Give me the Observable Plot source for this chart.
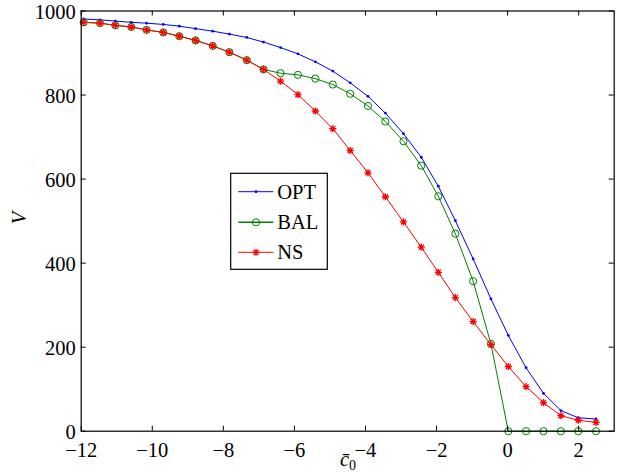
<!DOCTYPE html>
<html><head><meta charset="utf-8">
<script src="https://cdn.jsdelivr.net/npm/d3@7"></script>
<script src="https://cdn.jsdelivr.net/npm/@observablehq/plot@0.6"></script>
<style>
body{margin:0;background:#fff}
#chart{width:626px;height:474px}
#chart svg text{font-family:'Liberation Serif','Times New Roman',serif !important;}
</style>
</head><body><div id="chart"></div>
<script>
const c0 = [-11.93, -11.47, -11.04, -10.59, -10.16, -9.69, -9.24, -8.78, -8.30, -7.83, -7.34, -6.87, -6.39, -5.90, -5.41, -4.92, -4.43, -3.93, -3.44, -2.93, -2.43, -1.95, -1.47, -0.97, -0.47, 0.02, 0.52, 1.01, 1.50, 1.99, 2.49];
const opt = [981, 979, 976, 973, 971, 968, 964, 958, 952, 945, 937, 926, 913, 898, 879, 857, 829, 797, 757, 708, 652, 583, 501, 410, 315, 228, 151, 90, 49, 32, 29];
const bal = [973, 971, 966, 962, 955, 949, 940, 930, 917, 902, 883, 861, 852, 848, 839, 825, 803, 774, 737, 690, 632, 559, 470, 357, 208, 0, 0, 0, 0, 0, 0];
const ns  = [973, 971, 966, 962, 955, 949, 940, 930, 917, 902, 883, 861, 833, 801, 762, 720, 668, 615, 558, 498, 438, 378, 318, 261, 206, 154, 106, 68, 37, 26, 21];
const xTicks = [-12, -10, -8, -6, -4, -2, 0, 2];
const yTicks = [0, 200, 400, 600, 800, 1000];
const seriesNames = ["OPT", "BAL", "NS"];
const colors = ["#0000ff", "#008000", "#ff0000"];

const W = 626, H = 474;
const mL = 80.7, mR = 12.3, mT = 10.5, mB = 43.3;
const plotW = W - mL - mR, plotH = H - mT - mB;
const font = "'Liberation Serif', 'Times New Roman', serif";
const FS = 20.5;
const minus = d => String(d).replace("-", "\u2212");

const rows = ys => c0.map((x, i) => ({x, y: ys[i]}));
const optRows = rows(opt), balRows = rows(bal), nsRows = rows(ns);

const asterisk = {
  draw(ctx, size) {
    const r = Math.sqrt(size / Math.PI), d = r * Math.SQRT1_2;
    ctx.moveTo(-r, 0); ctx.lineTo(r, 0);
    ctx.moveTo(0, -r); ctx.lineTo(0, r);
    ctx.moveTo(-d, -d); ctx.lineTo(d, d);
    ctx.moveTo(-d, d); ctx.lineTo(d, -d);
  }
};

const chart = Plot.plot({
  width: W, height: H,
  marginLeft: mL, marginRight: mR, marginTop: mT, marginBottom: mB,
  style: {fontFamily: font, fontSize: FS + "px", background: "#fff", color: "#000"},
  x: {domain: [-12, 3]},
  y: {domain: [0, 1000]},
  marks: [
    Plot.line(optRows, {x: "x", y: "y", stroke: colors[0], strokeWidth: 1}),
    Plot.dot(optRows, {x: "x", y: "y", r: 1.4, fill: colors[0], stroke: "none"}),
    Plot.line(balRows, {x: "x", y: "y", stroke: colors[1], strokeWidth: 1}),
    Plot.dot(balRows, {x: "x", y: "y", r: 3.6, fill: "none", stroke: colors[1], strokeWidth: 1}),
    Plot.line(nsRows, {x: "x", y: "y", stroke: colors[2], strokeWidth: 1}),
    Plot.dot(nsRows, {x: "x", y: "y", r: 3.6, symbol: asterisk, fill: "none", stroke: colors[2], strokeWidth: 1.3}),
    Plot.tickX(xTicks, {x: d => d, stroke: "black", strokeWidth: 1, insetTop: plotH - 5}),
    Plot.tickX(xTicks, {x: d => d, stroke: "black", strokeWidth: 1, insetBottom: plotH - 5}),
    Plot.tickY(yTicks, {y: d => d, stroke: "black", strokeWidth: 1, insetRight: plotW - 5}),
    Plot.tickY(yTicks, {y: d => d, stroke: "black", strokeWidth: 1, insetLeft: plotW - 5}),
    Plot.axisX(xTicks, {tickSize: 0, tickPadding: 11, tickFormat: minus, fontSize: FS, label: null, fill: "black"}),
    Plot.axisY(yTicks, {tickSize: 0, tickPadding: 5.5, tickFormat: minus, fontSize: FS, label: null, fill: "black", dy: 1}),
    Plot.frame({stroke: "black", strokeWidth: 1.2})
  ]
});
document.getElementById("chart").appendChild(chart);

const svg = d3.select(chart);
// axis labels
const xl = svg.append("text").attr("x", 348).attr("y", 466).attr("text-anchor", "middle")
  .attr("font-family", font).attr("font-size", FS).attr("fill", "black");
xl.append("tspan").attr("font-style", "italic").text("c\u0304");
xl.append("tspan").attr("font-size", 14).attr("dy", 4).text("0");
svg.append("text").attr("transform", "translate(26,218) rotate(-90)").attr("text-anchor", "middle")
  .attr("font-family", font).attr("font-size", FS).attr("font-style", "italic").attr("fill", "black").text("V");

// legend
const lg = svg.append("g");
lg.append("rect").attr("x", 230.7).attr("y", 173.3).attr("width", 96.6).attr("height", 96)
  .attr("fill", "white").attr("stroke", "black").attr("stroke-width", 1.2);
const ly = [191.7, 222.3, 252.3];
seriesNames.forEach((name, i) => {
  const y = ly[i];
  lg.append("line").attr("x1", 238.3).attr("x2", 273.3).attr("y1", y).attr("y2", y)
    .attr("stroke", colors[i]).attr("stroke-width", i === 1 ? 1.4 : 1);
  if (i === 0) lg.append("circle").attr("cx", 256).attr("cy", y).attr("r", 1.4).attr("fill", colors[0]);
  if (i === 1) lg.append("circle").attr("cx", 256).attr("cy", y).attr("r", 3.6).attr("fill", "none").attr("stroke", colors[1]);
  if (i === 2) lg.append("path").attr("transform", `translate(256,${y})`)
    .attr("d", d3.symbol(asterisk, Math.PI * 3.6 * 3.6)()).attr("stroke", colors[2]).attr("stroke-width", 1.3).attr("fill", "none");
  lg.append("text").attr("x", 277.3).attr("y", y + 7).attr("text-anchor", "start")
    .attr("font-family", font).attr("font-size", FS).attr("fill", "black").text(name);
});
</script>
</body></html>
